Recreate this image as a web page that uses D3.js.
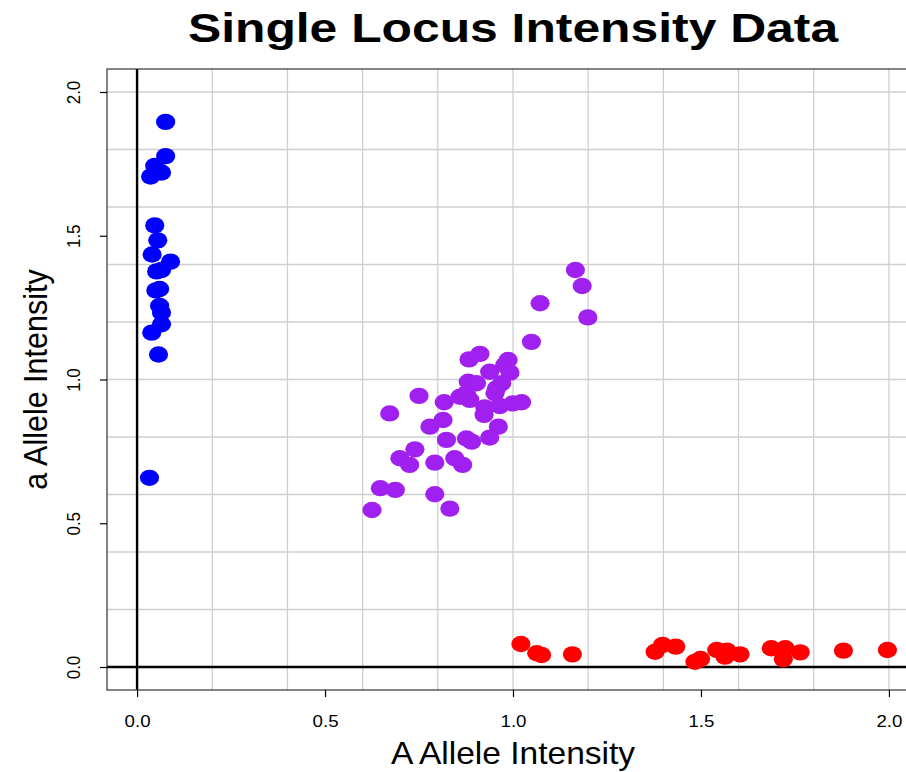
<!DOCTYPE html>
<html>
<head>
<meta charset="utf-8">
<script src="https://cdn.jsdelivr.net/npm/d3@7"></script>
<style>
  html, body { margin: 0; padding: 0; background: #fff; }
  svg { display: block; }
  text { font-family: "Liberation Sans", Arial, Helvetica, sans-serif; fill: #000; }
</style>
</head>
<body>
<svg id="chart" width="906" height="772"></svg>
<script>
// ---- data ----
const title = "Single Locus Intensity Data";
const xLabel = "A Allele Intensity";
const yLabel = "a Allele Intensity";
const xTicks = [0, 0.5, 1.0, 1.5, 2.0];
const yTicks = [0, 0.5, 1.0, 1.5, 2.0];
const gridValues = [0, 0.2, 0.4, 0.6, 0.8, 1.0, 1.2, 1.4, 1.6, 1.8, 2.0];

// homozygous a (blue)
const blueA = [0.076,0.076,0.047,0.065,0.036,0.047,0.055,0.040,0.089,0.065,0.052,0.050,0.060,0.060,0.065,0.065,0.039,0.057,0.033];
const blueB = [1.896,1.777,1.743,1.720,1.706,1.536,1.484,1.435,1.410,1.381,1.376,1.310,1.315,1.256,1.233,1.192,1.163,1.087,0.658];

// heterozygous (purple)
const purpleA = [1.166,1.184,1.072,1.199,1.049,0.912,0.883,0.987,0.978,0.938,0.992,0.970,0.881,0.903,0.956,0.750,0.876,0.859,0.952,0.885,0.817,1.000,1.023,0.965,0.925,0.672,0.923,0.814,0.779,0.961,0.823,0.876,0.890,0.938,0.739,0.699,0.725,0.792,0.845,0.866,0.647,0.687,0.792,0.625,0.832];
const purpleB = [1.381,1.325,1.265,1.216,1.131,1.089,1.070,1.068,1.050,1.027,1.024,0.987,0.992,0.987,0.969,0.943,0.952,0.940,0.952,0.929,0.921,0.917,0.921,0.908,0.903,0.882,0.877,0.859,0.836,0.836,0.790,0.795,0.784,0.798,0.757,0.726,0.703,0.711,0.726,0.703,0.622,0.616,0.601,0.546,0.551];

// homozygous A (red)
const redA = [1.021,1.063,1.076,1.158,1.378,1.398,1.433,1.484,1.499,1.542,1.569,1.564,1.604,1.687,1.724,1.719,1.764,1.879,1.996];
const redB = [0.080,0.048,0.042,0.044,0.053,0.077,0.071,0.018,0.028,0.059,0.057,0.036,0.044,0.065,0.065,0.027,0.051,0.057,0.059];

// ---- layout ----
const SX = 1.1; // horizontal stretch of the original image for labels
const svg = d3.select("#chart");
const plot = { left: 107, top: 69, right: 919, bottom: 690 };

const x = d3.scaleLinear().domain([-0.08, 2.08]).range([plot.left, plot.right]);
const y = d3.scaleLinear().domain([-0.08, 2.08]).range([plot.bottom, plot.top]);

svg.append("defs").append("clipPath").attr("id", "clip")
  .append("rect").attr("x", plot.left).attr("y", plot.top)
  .attr("width", plot.right - plot.left).attr("height", plot.bottom - plot.top);

const g = svg.append("g").attr("clip-path", "url(#clip)");

// grid
g.selectAll("line.vg").data(gridValues).join("line")
  .attr("x1", d => x(d)).attr("x2", d => x(d))
  .attr("y1", plot.top).attr("y2", plot.bottom)
  .attr("stroke", "#cfcfcf").attr("stroke-width", 1.3);
g.selectAll("line.hg").data(gridValues).join("line")
  .attr("y1", d => y(d)).attr("y2", d => y(d))
  .attr("x1", plot.left).attr("x2", plot.right)
  .attr("stroke", "#cfcfcf").attr("stroke-width", 1.3);

// reference lines at 0
g.append("line").attr("x1", x(0)).attr("x2", x(0)).attr("y1", plot.top).attr("y2", plot.bottom)
  .attr("stroke", "#000").attr("stroke-width", 2.4);
g.append("line").attr("y1", y(0)).attr("y2", y(0)).attr("x1", plot.left).attr("x2", plot.right)
  .attr("stroke", "#000").attr("stroke-width", 2.4);

// points
function drawPts(xs, ys, color) {
  g.append("g").selectAll("ellipse").data(xs.map((v, i) => [v, ys[i]])).join("ellipse")
    .attr("cx", d => x(d[0])).attr("cy", d => y(d[1]))
    .attr("rx", 9.6).attr("ry", 8.2)
    .attr("fill", color);
}
drawPts(blueA, blueB, "#0000ff");
drawPts(purpleA, purpleB, "#a020f0");
drawPts(redA, redB, "#ff0000");

// box
svg.append("rect").attr("x", plot.left).attr("y", plot.top)
  .attr("width", plot.right - plot.left).attr("height", plot.bottom - plot.top)
  .attr("fill", "none").attr("stroke", "#333").attr("stroke-width", 1.2);

// x axis
const xAxis = d3.axisBottom(x).tickValues(xTicks).tickSize(7).tickFormat(d3.format(".1f"));
const xg = svg.append("g").attr("transform", `translate(0,${plot.bottom})`).call(xAxis);
xg.select(".domain").remove();
xg.selectAll(".tick line").attr("stroke", "#000").attr("stroke-width", 1.2);
xg.selectAll(".tick text").remove();
xg.selectAll(".tick").append("text")
  .attr("transform", `translate(0,37) scale(${SX},1)`)
  .attr("text-anchor", "middle").attr("font-size", 17)
  .text(d => d3.format(".1f")(d));

// y axis
const yAxis = d3.axisLeft(y).tickValues(yTicks).tickSize(7).tickFormat(d3.format(".1f"));
const yg = svg.append("g").attr("transform", `translate(${plot.left},0)`).call(yAxis);
yg.select(".domain").remove();
yg.selectAll(".tick line").attr("stroke", "#000").attr("stroke-width", 1.2);
yg.selectAll(".tick text").remove();
yg.selectAll(".tick").append("text")
  .attr("transform", `translate(-27,0) scale(${SX},1) rotate(-90)`)
  .attr("text-anchor", "middle").attr("font-size", 17)
  .text(d => d3.format(".1f")(d));

// title
const cx = (plot.left + plot.right) / 2;
svg.append("text")
  .attr("transform", `translate(${cx},42) scale(1.2,1)`)
  .attr("text-anchor", "middle").attr("font-size", 41.5).attr("font-weight", "bold")
  .text(title);

// axis labels
svg.append("text")
  .attr("transform", `translate(${cx},764) scale(${SX},1)`)
  .attr("text-anchor", "middle").attr("font-size", 30.5)
  .text(xLabel);
svg.append("text")
  .attr("transform", `translate(47,${(plot.top + plot.bottom) / 2}) scale(${SX},1) rotate(-90)`)
  .attr("text-anchor", "middle").attr("font-size", 30.5)
  .text(yLabel);
</script>
</body>
</html>
